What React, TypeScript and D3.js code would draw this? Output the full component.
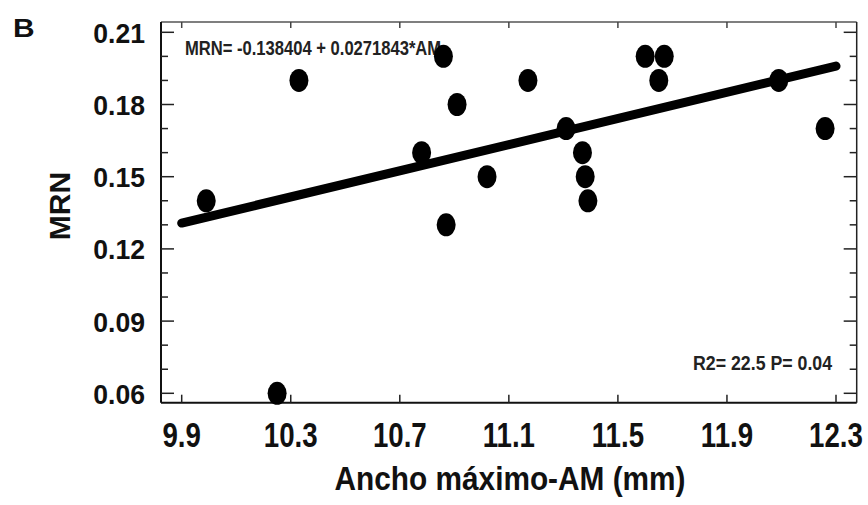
import React from "react";
import * as d3 from "d3";

const amValues = [9.99, 10.25, 10.33, 10.78, 10.86, 10.91, 11.02, 10.87, 11.17, 11.31, 11.37, 11.38, 11.39, 11.6, 11.67, 11.65, 12.09, 12.26];
const mrnValues = [0.14, 0.06, 0.19, 0.16, 0.2, 0.18, 0.15, 0.13, 0.19, 0.17, 0.16, 0.15, 0.14, 0.2, 0.2, 0.19, 0.19, 0.17];
const xTicks = [9.9, 10.3, 10.7, 11.1, 11.5, 11.9, 12.3];
const yTicks = [0.06, 0.09, 0.12, 0.15, 0.18, 0.21];
const yMinorTicks = d3.range(6, 22).map((v) => v / 100);
const intercept = -0.138404;
const slope = 0.0271843;
const equationLabel = "MRN= -0.138404 + 0.0271843*AM";
const statsLabel = "R2= 22.5 P= 0.04";
const xTitle = "Ancho máximo-AM (mm)";
const yTitle = "MRN";
const panelLabel = "B";

const W = 868;
const H = 505;
const frame = { left: 161, right: 856.7, top: 22, bottom: 402.7 };
const FONT = "'Liberation Sans', Arial, sans-serif";

export default function App() {
  const x = d3.scaleLinear().domain([9.9, 12.3]).range([181.7, 836]);
  const y = d3.scaleLinear().domain([0.06, 0.21]).range([393.3, 32.3]);
  const fit = d3.line<number>().x((d) => x(d)).y((d) => y(intercept + slope * d));
  const fitPath = fit([xTicks[0], xTicks[xTicks.length - 1]]) || "";
  const points = amValues.map((a, i) => ({ a, m: mrnValues[i] }));

  return (
    <svg width={W} height={H} style={{ position: "absolute", left: 0, top: 0, background: "#fff" }} fontFamily={FONT}>
      <rect x={0} y={0} width={W} height={H} fill="#fff" />
      {/* frame */}
      <line x1={frame.left} x2={frame.right} y1={frame.top} y2={frame.top} stroke="#555" strokeWidth={1.5} />
      <line x1={frame.right} x2={frame.right} y1={frame.top} y2={frame.bottom} stroke="#222" strokeWidth={1.5} />
      <line x1={frame.left} x2={frame.left} y1={frame.top} y2={frame.bottom} stroke="#111" strokeWidth={2} />
      <line x1={frame.left} x2={frame.right} y1={frame.bottom} y2={frame.bottom} stroke="#111" strokeWidth={2} />
      {/* y ticks */}
      {yMinorTicks.map((t) => {
        const major = yTicks.some((m) => Math.abs(m - t) < 1e-9);
        const len = major ? 13 : 7;
        return (
          <g key={"yt" + t}>
            <line x1={frame.left} x2={frame.left + len} y1={y(t)} y2={y(t)} stroke="#222" strokeWidth={1.5} />
            <line x1={frame.right} x2={frame.right - len} y1={y(t)} y2={y(t)} stroke="#222" strokeWidth={1.5} />
          </g>
        );
      })}
      {/* x ticks */}
      {xTicks.map((t) => (
        <g key={"xt" + t}>
          <line x1={x(t)} x2={x(t)} y1={frame.bottom} y2={frame.bottom - 8} stroke="#222" strokeWidth={1.5} />
          <line x1={x(t)} x2={x(t)} y1={frame.top} y2={frame.top + 6} stroke="#444" strokeWidth={1.5} />
        </g>
      ))}
      {/* y tick labels */}
      {yTicks.map((t) => (
        <g key={"yl" + t} transform={`translate(145,${y(t) + 10.5}) scale(0.95,1)`}>
          <text textAnchor="end" fontSize={28} fontWeight="bold" fill="#111">
            {d3.format(".2f")(t)}
          </text>
        </g>
      ))}
      {/* x tick labels */}
      {xTicks.map((t) => (
        <g key={"xl" + t} transform={`translate(${x(t)},446.7) scale(0.79,1)`}>
          <text textAnchor="middle" fontSize={35} fontWeight="bold" fill="#111">
            {d3.format(".1f")(t)}
          </text>
        </g>
      ))}
      {/* axis titles */}
      <g transform="translate(510,490) scale(0.89,1)">
        <text textAnchor="middle" fontSize={33.5} fontWeight="bold" fill="#111">
          {xTitle}
        </text>
      </g>
      <g transform="translate(70,206) rotate(-90)">
        <text textAnchor="middle" fontSize={30} fontWeight="bold" fill="#111">
          {yTitle}
        </text>
      </g>
      <g transform="translate(13,37) scale(1.15,1)">
        <text fontSize={26} fontWeight="bold" fill="#111">
          {panelLabel}
        </text>
      </g>
      {/* annotations */}
      <g transform="translate(185,55) scale(0.79,1)">
        <text fontSize={21} fontWeight="bold" fill="#222">
          {equationLabel}
        </text>
      </g>
      <g transform="translate(693,370) scale(0.845,1)">
        <text fontSize={21} fontWeight="bold" fill="#222">
          {statsLabel}
        </text>
      </g>
      {/* regression line */}
      <path d={fitPath} stroke="#000" strokeWidth={9} strokeLinecap="round" fill="none" />
      {/* points */}
      {points.map((p, i) => (
        <ellipse key={"p" + i} cx={x(p.a)} cy={y(p.m)} rx={9.5} ry={11.5} fill="#000" />
      ))}
    </svg>
  );
}
